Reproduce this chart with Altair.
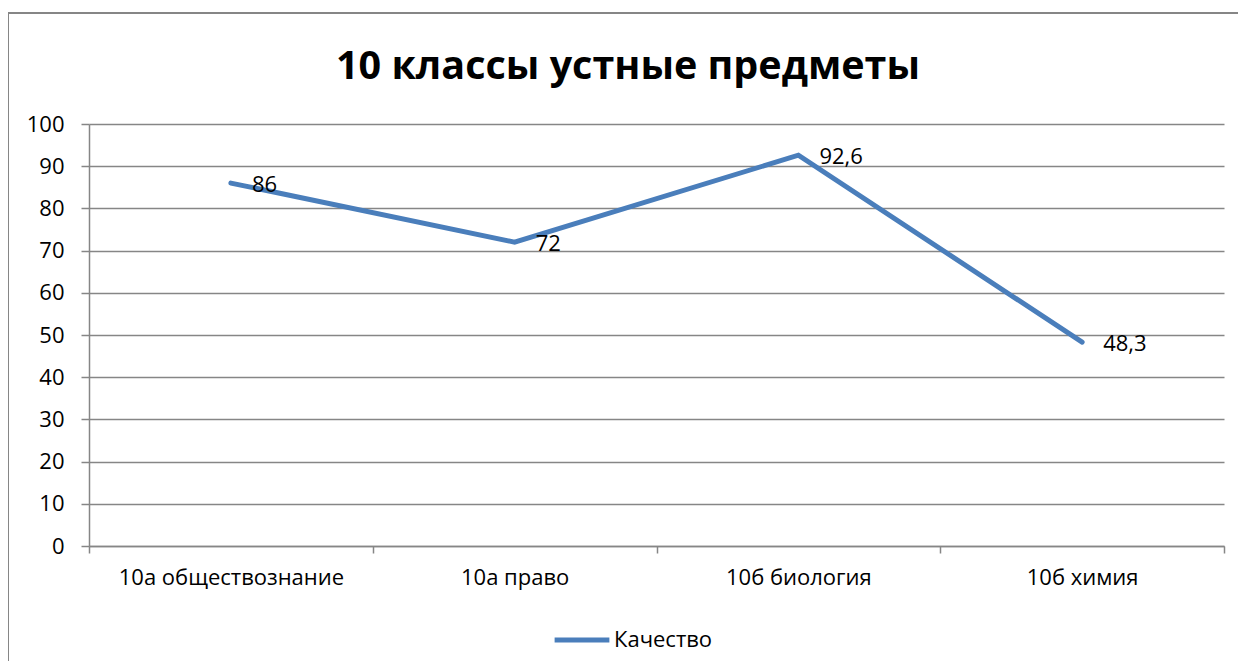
import altair as alt
import pandas as pd

categories = ["10а обществознание", "10а право", "10б биология", "10б химия"]
values = [86, 72, 92.6, 48.3]
labels = ["86", "72", "92,6", "48,3"]
series = "Качество"
title = "10 классы устные предметы"

df = pd.DataFrame({"cat": categories, "val": values, "lab": labels, "series": series})

FONT = "Open Sans"
GRID = "#868686"
BLUE = "#4a7ebb"

W, H = 1135, 422
PL, PT, PR, PB = 81, 116, 14, 115

x_enc = alt.X("cat:N", sort=categories, bandPosition=0.5,
              scale=alt.Scale(type="band", paddingInner=0, paddingOuter=0),
              axis=alt.Axis(title=None, labelAngle=0, tickBand="extent", grid=False,
                            domainColor=GRID, tickColor=GRID, tickSize=7, domainWidth=1.5,
                            tickWidth=1.5, labelFontSize=22, labelFont=FONT, labelLimit=0,
                            labelColor="#000", labelPadding=14))
y_enc = alt.Y("val:Q", scale=alt.Scale(domain=[0, 100], nice=False),
              axis=alt.Axis(title=None, values=list(range(0, 101, 10)), grid=True,
                            gridColor=GRID, gridWidth=1.5, domainColor=GRID, domainWidth=1.5,
                            tickColor=GRID, tickSize=8, tickWidth=1.5, labelFontSize=22,
                            labelFont=FONT, labelColor="#000", labelPadding=17))

frame = alt.Chart(alt.Data(values=[{"a": 1}])).mark_rect(
    fill=None, stroke=GRID, strokeWidth=2, clip=False
).encode(
    x=alt.value(-81), x2=alt.value(W + PR + 10),
    y=alt.value(-111), y2=alt.value(H + PB + 10),
)

title_mark = alt.Chart(alt.Data(values=[{"t": title}])).mark_text(
    align="center", baseline="alphabetic", fontSize=39.5, fontWeight="bold",
    font=FONT, color="#000", clip=False
).encode(x=alt.value(539), y=alt.value(-45), text="t:N")

line = alt.Chart(df).mark_line(strokeWidth=5, strokeCap="round").encode(
    x=x_enc, y=y_enc,
    color=alt.Color("series:N", scale=alt.Scale(range=[BLUE]),
                    legend=alt.Legend(title=None, orient="none", legendX=463, legendY=486,
                                      symbolType="stroke", symbolSize=3000, symbolStrokeWidth=5,
                                      labelFontSize=22, labelFont=FONT, labelColor="#000",
                                      labelOffset=2)),
)

text = alt.Chart(df).mark_text(align="left", baseline="middle", dx=21, dy=2,
                               fontSize=22, font=FONT, color="#000").encode(
    x=alt.X("cat:N", sort=categories, bandPosition=0.5), y="val:Q", text="lab:N")

chart = alt.layer(frame, title_mark, line, text).properties(
    width=W, height=H,
    autosize=alt.AutoSizeParams(type="none"),
    padding={"left": PL, "top": PT, "right": PR, "bottom": PB},
).configure_view(stroke=None)

chart.save("out.html", embed_options={"renderer": "svg", "actions": False})
